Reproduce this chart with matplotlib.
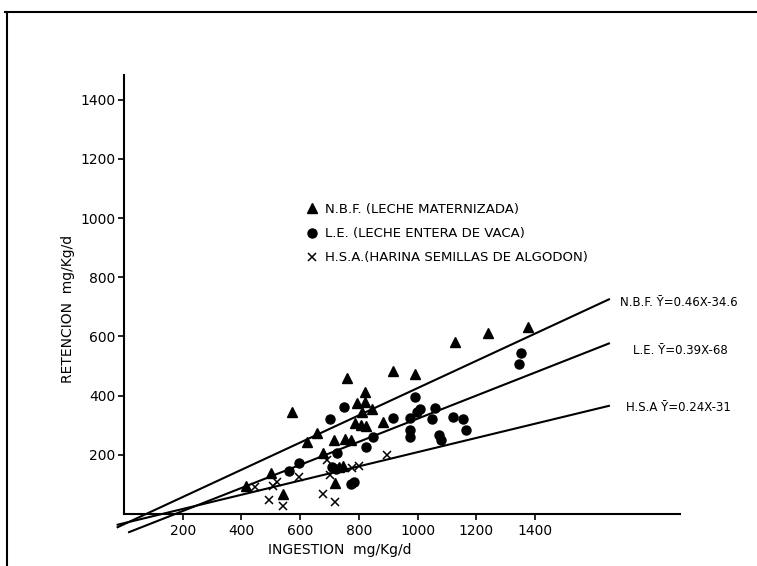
"""
Retencion vs ingestion scatter with three regression lines (scanned figure remake).
"""

import matplotlib.pyplot as plt
from matplotlib.lines import Line2D

# N.B.F. (leche maternizada) - triangles
nbf_x = [415, 502, 543, 571, 624, 658, 679, 715, 720, 731, 747, 753, 772, 760,
         792, 821, 821, 788, 806, 824, 810, 844, 881, 917, 992, 1127, 1241, 1377]
nbf_y = [96, 140, 68, 346, 244, 272, 205, 250, 104, 160, 162, 254, 250, 458,
         376, 379, 413, 306, 301, 297, 346, 354, 312, 484, 472, 582, 610, 633]

# L.E. (leche entera de vaca) - circles
le_x = [563, 597, 702, 727, 748, 707, 722, 772, 783, 823, 849, 915, 974, 974,
        974, 991, 999, 1008, 1048, 1059, 1074, 1080, 1122, 1154, 1165, 1351, 1346]
le_y = [146, 171, 322, 207, 360, 160, 152, 101, 109, 225, 259, 325, 325, 284,
        261, 396, 346, 355, 321, 359, 267, 250, 329, 320, 284, 543, 506]

# H.S.A. (harina semillas de algodon) - crosses
hsa_x = [446, 494, 509, 520, 543, 597, 677, 690, 702, 720, 775, 801, 895]
hsa_y = [92, 47, 96, 109, 28, 126, 67, 182, 132, 40, 154, 162, 199]

# regression lines  Y = a*X + b
slopes = [0.46, 0.39, 0.24]
intercepts = [-34.6, -68, -31]
x_start = [-25, 14, -25]
x_end = [1655, 1655, 1655]
line_labels = ["N.B.F. Ȳ=0.46X-34.6", "L.E. Ȳ=0.39X-68", "H.S.A Ȳ=0.24X-31"]
label_pos = [(1688, 716), (1733, 554), (1709, 361)]

x_ticks = [200, 400, 600, 800, 1000, 1200, 1400]
y_ticks = [200, 400, 600, 800, 1000, 1200, 1400]

W, H = 757, 566
fig = plt.figure(figsize=(W / 100, H / 100), dpi=100)

# axes placed so data maps onto the scanned geometry
px0, py0 = 124, 514          # pixel of data origin
sx, sy = 0.2936, 0.296       # pixels per data unit
left_px, right_px, top_px, bot_px = 10, 750, 20, 560
ax = fig.add_axes([left_px / W, (H - bot_px) / H,
                   (right_px - left_px) / W, (bot_px - top_px) / H])
ax.set_xlim((left_px - px0) / sx, (right_px - px0) / sx)
ax.set_ylim((py0 - bot_px) / sy, (py0 - top_px) / sy)

for s in ["top", "right"]:
    ax.spines[s].set_visible(False)
ax.spines["bottom"].set_position(("data", 0))
ax.spines["left"].set_position(("data", 0))
ax.spines["bottom"].set_bounds(0, 1895)
ax.spines["left"].set_bounds(0, 1482)
for s in ["bottom", "left"]:
    ax.spines[s].set_linewidth(1.5)

ax.set_xticks(x_ticks)
ax.set_yticks(y_ticks)
ax.tick_params(direction="out", length=4, width=1.2, labelsize=10)
ax.tick_params(axis="x", pad=3)
ax.tick_params(axis="y", pad=2)

h_nbf, = ax.plot(nbf_x, nbf_y, "^", color="black", ms=6.5, ls="none",
                 label="N.B.F. (LECHE MATERNIZADA)")
h_le, = ax.plot(le_x, le_y, "o", color="black", ms=6.5, ls="none",
                label="L.E. (LECHE ENTERA DE VACA)")
h_hsa, = ax.plot(hsa_x, hsa_y, "x", color="black", ms=6, mew=1.1, ls="none",
                 label="H.S.A.(HARINA SEMILLAS DE ALGODON)")

for a, b, x0, x1, lab, (tx, ty) in zip(slopes, intercepts, x_start, x_end,
                                       line_labels, label_pos):
    ax.plot([x0, x1], [a * x0 + b, a * x1 + b], color="black", lw=1.5,
            solid_capstyle="butt", clip_on=False)
    ax.text(tx, ty, lab, fontsize=8.5, va="center", ha="left")

ax.legend(handles=[h_nbf, h_le, h_hsa], loc="upper left",
          bbox_to_anchor=(305 / W, 1 - 203 / H), bbox_transform=fig.transFigure,
          frameon=False, fontsize=9.5, handlelength=1.0, handletextpad=0.5,
          labelspacing=0.85, borderpad=0, borderaxespad=0)

ax.set_xlabel("INGESTION  mg/Kg/d", fontsize=10)
ax.xaxis.set_label_coords(340 / W, 1 - 543 / H, transform=fig.transFigure)
ax.set_ylabel("RETENCION  mg/Kg/d", fontsize=10)
ax.yaxis.set_label_coords(75 / W, 1 - 309 / H, transform=fig.transFigure)

# outer frame of the scanned page
fig.add_artist(Line2D([5 / W, 1], [1 - 12 / H, 1 - 12 / H], color="black", lw=1.5))
fig.add_artist(Line2D([7 / W, 7 / W], [0, 1 - 12 / H], color="black", lw=1.5))

fig.savefig("out.png", dpi=100)
